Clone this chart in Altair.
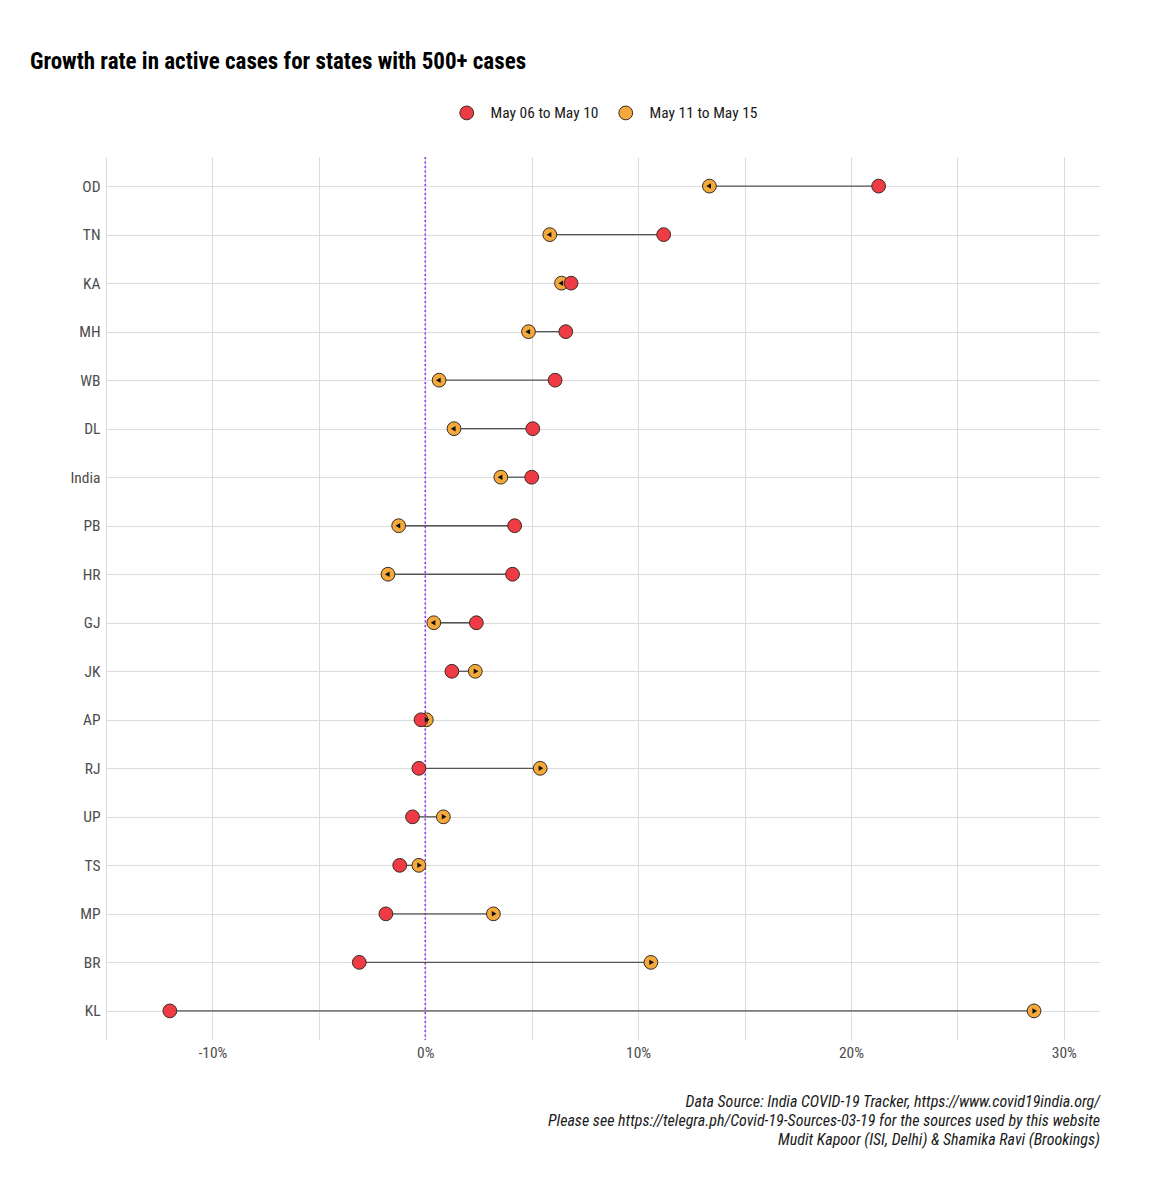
import altair as alt
import pandas as pd

states = ["OD", "TN", "KA", "MH", "WB", "DL", "India", "PB", "HR", "GJ",
          "JK", "AP", "RJ", "UP", "TS", "MP", "BR", "KL"]
may06_10 = [21.3, 11.2, 6.85, 6.6, 6.1, 5.05, 5.0, 4.2, 4.1, 2.4,
            1.25, -0.2, -0.3, -0.6, -1.2, -1.85, -3.1, -12.0]
may11_15 = [13.35, 5.85, 6.4, 4.85, 0.65, 1.35, 3.55, -1.25, -1.75, 0.4,
            2.35, 0.05, 5.4, 0.85, -0.3, 3.2, 10.6, 28.6]
periods = ["May 06 to May 10", "May 11 to May 15"]
x_ticks = [-15, -10, -5, 0, 5, 10, 15, 20, 25, 30]
title_text = "Growth rate in active cases for states with 500+ cases"
caption_lines = [
    "Data Source: India COVID-19 Tracker, https://www.covid19india.org/",
    "Please see https://telegra.ph/Covid-19-Sources-03-19 for the sources used by this website",
    "Mudit Kapoor (ISI, Delhi) & Shamika Ravi (Brookings)",
]

FONT = "Liberation Sans Narrow, Roboto Condensed, Liberation Sans, Arial"
W, H = 994, 883
LBL = 15.5

wide = pd.DataFrame({"state": states, "a": may06_10, "b": may11_15})
long = pd.concat([
    pd.DataFrame({"state": states, "value": may11_15, "period": periods[1]}),
    pd.DataFrame({"state": states, "value": may06_10, "period": periods[0]}),
], ignore_index=True)

x_scale = alt.Scale(domain=[-15, 31.7], nice=False, zero=False)
y_enc = alt.Y("state:N", sort=states, title=None,
              scale=alt.Scale(type="point", padding=0.6),
              axis=alt.Axis(grid=True, gridColor="#dcdcdc", gridWidth=1,
                            domain=False, ticks=False, labelFontSize=LBL,
                            labelColor="#4d4d4d", labelFont=FONT, labelPadding=6))
x_axis = alt.Axis(values=x_ticks, grid=True, gridColor="#dcdcdc", gridWidth=1,
                  domain=False, ticks=False, labelFontSize=LBL, labelColor="#4d4d4d",
                  labelFont=FONT, labelPadding=5,
                  labelExpr="datum.value % 10 == 0 ? datum.value + '%' : ''")

base = alt.Chart(wide)

zero = alt.Chart(pd.DataFrame({"z": [0]})).mark_rule(
    color="#9b30ff", strokeDash=[2, 2.5], strokeWidth=1.6
).encode(x=alt.X("z:Q", scale=x_scale, axis=x_axis, title=None))

seg = base.mark_rule(color="#555555", strokeWidth=1.3).encode(
    x=alt.X("a:Q", scale=x_scale, axis=x_axis, title=None),
    x2="b:Q",
    y=y_enc,
)

pts = alt.Chart(long).mark_point(
    filled=True, size=190, opacity=1, stroke="#3a2a20", strokeWidth=1
).encode(
    x=alt.X("value:Q", scale=x_scale, axis=x_axis, title=None),
    y=y_enc,
    fill=alt.Fill("period:N", scale=alt.Scale(domain=periods, range=["#ef3b45", "#f4a93c"]),
                  legend=alt.Legend(orient="none", legendX=353, legendY=-52, direction="horizontal",
                                    title=None, symbolType="circle", symbolSize=190,
                                    symbolStrokeColor="#3a2a20", symbolStrokeWidth=1,
                                    labelFontSize=LBL, labelFont=FONT, labelColor="#1a1a1a",
                                    labelOffset=16, columnPadding=17, padding=0)),
)

arrows = base.transform_calculate(
    ang="datum.b > datum.a ? 90 : 270",
    off="datum.b > datum.a ? -2 : 2",
).mark_point(shape="triangle", filled=True, color="#111111", size=30, opacity=1).encode(
    x=alt.X("b:Q", scale=x_scale, axis=x_axis, title=None),
    xOffset=alt.XOffset("off:Q", scale=None),
    y=y_enc,
    angle=alt.Angle("ang:Q", scale=None),
)

caption = alt.Chart(pd.DataFrame({"c": [0]})).mark_text(
    text=caption_lines, align="right", baseline="alphabetic", fontSize=16,
    fontStyle="italic", font=FONT, color="#1a1a1a", lineHeight=19
).encode(x=alt.value(W), y=alt.value(H + 67))

chart = alt.layer(zero, seg, pts, arrows, caption).properties(
    width=W, height=H,
    title=alt.Title(title_text, anchor="start", frame="group", dx=-76, offset=31,
                    fontSize=23, font=FONT, fontWeight="bold", color="#000000"),
    autosize=alt.AutoSizeParams(type="none"),
    padding={"left": 98, "top": 149, "right": 40, "bottom": 140},
    background="white",
).configure_view(stroke=None)

chart.save("out.html", embed_options={"renderer": "svg", "actions": False})
